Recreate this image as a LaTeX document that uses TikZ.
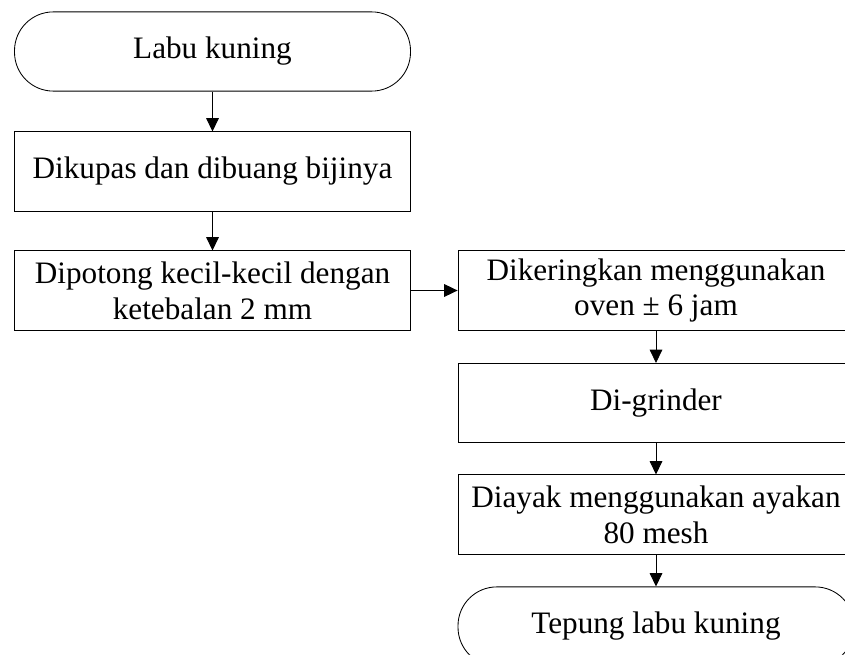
\documentclass[tikz,border=0pt]{standalone}
\usepackage{fontspec}
\setmainfont{Liberation Serif}
\usetikzlibrary{arrows.meta}
\begin{document}
\begin{tikzpicture}[proc/.style={draw,line width=0.6pt,minimum width=9.9cm,minimum height=1.98cm,inner sep=0pt,align=center,font=\fontsize{22.2}{25.6}\selectfont},
        term/.style={proc,rounded corners=0.97cm},
        arr/.style={line width=0.6pt,-{Triangle[length=9.5pt,width=9pt]}}]
        \clip(0,0)rectangle(21.125,-16.375);
        \node[term](labu)at(5.3125,-1.2875){Labu kuning};
        \node[proc](kupas)at(5.3125,-4.2875){Dikupas dan dibuang bijinya};
        \node[proc](potong)at(5.3125,-7.2625){Dipotong kecil-kecil dengan\\ketebalan 2 mm};
        \node[proc](kering)at(16.4,-7.2625){Dikeringkan menggunakan\\oven ± 6 jam};
        \node[proc](grind)at(16.4,-10.075){Di-grinder};
        \node[proc](ayak)at(16.4,-12.8625){Diayak menggunakan ayakan\\80 mesh};
        \node[term](tepung)at(16.4,-15.6625){Tepung labu kuning};
        \draw[arr](labu)--(kupas);
        \draw[arr](kupas)--(potong);
        \draw[arr](potong)--(kering);
        \draw[arr](kering)--(grind);
        \draw[arr](grind)--(ayak);
        \draw[arr](ayak)--(tepung);
    \end{tikzpicture}
\end{document}
